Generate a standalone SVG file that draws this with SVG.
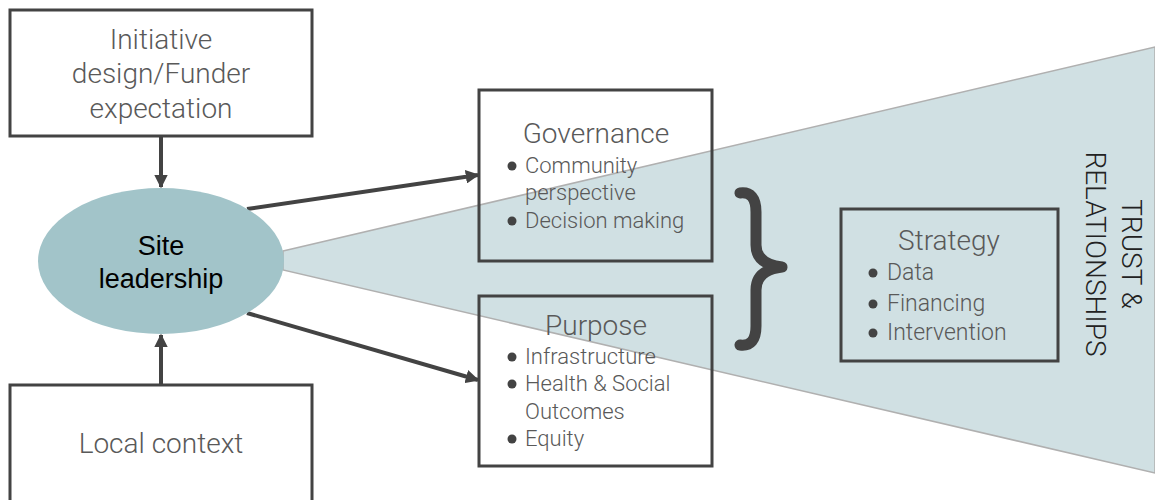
<svg xmlns="http://www.w3.org/2000/svg" width="1155" height="500" viewBox="0 0 1155 500">
<defs>
<style>
.box{fill:none;stroke:#434343;stroke-width:3}
.lbl{font-family:"Roboto Light",Roboto,"Liberation Sans",sans-serif;font-weight:300;fill:#595959}
.t28{font-size:28px}
.t22{font-size:22px}
.t23{font-size:23px}
.conn{stroke:#434343;stroke-width:4;fill:none}
.dot{fill:#434343}
</style>
<marker id="ah" viewBox="0 0 10 10" refX="9" refY="5" markerWidth="3.4" markerHeight="3.4" orient="auto" markerUnits="strokeWidth">
<path d="M0,0 L10,5 L0,10 z" fill="#434343"/>
</marker>
</defs>
<rect width="1155" height="500" fill="#ffffff"/>
<g id="trust">
<polygon points="283,251 1155,47 1155,473 283,270" fill="#d0e0e3" stroke="#b0b0b0" stroke-width="1.5"/>
<text font-family="'Roboto Light',Roboto,'Liberation Sans',sans-serif" font-weight="300" font-size="28" fill="#222222" text-anchor="middle" transform="translate(1122,254) rotate(90)">TRUST &amp;</text>
<text font-family="'Roboto Light',Roboto,'Liberation Sans',sans-serif" font-weight="300" font-size="28" fill="#222222" text-anchor="middle" transform="translate(1086,254) rotate(90)">RELATIONSHIPS</text>
</g>
<g id="connectors">
<line class="conn" x1="161" y1="137" x2="161" y2="187" marker-end="url(#ah)"/>
<line class="conn" x1="161" y1="384" x2="161" y2="335" marker-end="url(#ah)"/>
<line class="conn" x1="247" y1="209" x2="478" y2="175" marker-end="url(#ah)"/>
<line class="conn" x1="247" y1="313" x2="478" y2="380" marker-end="url(#ah)"/>
</g>
<g id="initiative">
<rect class="box" x="10" y="10" width="302" height="126"/>
<text class="lbl t28" text-anchor="middle" x="161" y="49">Initiative</text>
<text class="lbl t28" text-anchor="middle" x="161" y="83">design/Funder</text>
<text class="lbl t28" text-anchor="middle" x="161" y="118">expectation</text>
</g>
<g id="local">
<rect class="box" x="10" y="385" width="302" height="130"/>
<text class="lbl t28" text-anchor="middle" x="161" y="453">Local context</text>
</g>
<g id="site">
<ellipse cx="161" cy="261" rx="123" ry="73" fill="#a2c4c9"/>
<text font-family="'Liberation Sans',Arial,sans-serif" font-size="27" fill="#000000" text-anchor="middle" x="161" y="255">Site</text>
<text font-family="'Liberation Sans',Arial,sans-serif" font-size="27" fill="#000000" text-anchor="middle" x="161" y="288">leadership</text>
</g>
<g id="governance">
<rect class="box" x="479" y="90" width="233" height="171"/>
<text class="lbl t28" text-anchor="middle" x="596" y="143">Governance</text>
<circle class="dot" cx="512" cy="166" r="4.5"/>
<text class="lbl t22" x="525" y="173">Community</text>
<text class="lbl t22" x="525" y="200">perspective</text>
<circle class="dot" cx="512" cy="221" r="4.5"/>
<text class="lbl t22" x="525" y="228">Decision making</text>
</g>
<g id="purpose">
<rect class="box" x="479" y="296" width="233" height="170"/>
<text class="lbl t28" text-anchor="middle" x="596" y="335">Purpose</text>
<circle class="dot" cx="512" cy="357" r="4.5"/>
<text class="lbl t22" x="525" y="364">Infrastructure</text>
<circle class="dot" cx="512" cy="384" r="4.5"/>
<text class="lbl t22" x="525" y="391">Health &amp; Social</text>
<text class="lbl t22" x="525" y="419">Outcomes</text>
<circle class="dot" cx="512" cy="439" r="4.5"/>
<text class="lbl t22" x="525" y="446">Equity</text>
</g>
<g id="brace">
<path d="M740,193 Q756,191 756,212 L756,245 Q756,264 782,267 Q756,270 756,290 L756,326 Q756,347 740,345" fill="none" stroke="#434343" stroke-width="11" stroke-linecap="round" stroke-linejoin="round"/>
</g>
<g id="strategy">
<rect class="box" x="841" y="209" width="217" height="152"/>
<text class="lbl t28" text-anchor="middle" x="949" y="250">Strategy</text>
<circle class="dot" cx="873" cy="273" r="4.5"/>
<text class="lbl t23" x="887" y="280">Data</text>
<circle class="dot" cx="873" cy="304" r="4.5"/>
<text class="lbl t23" x="887" y="311">Financing</text>
<circle class="dot" cx="873" cy="333" r="4.5"/>
<text class="lbl t23" x="887" y="340">Intervention</text>
</g>
</svg>
